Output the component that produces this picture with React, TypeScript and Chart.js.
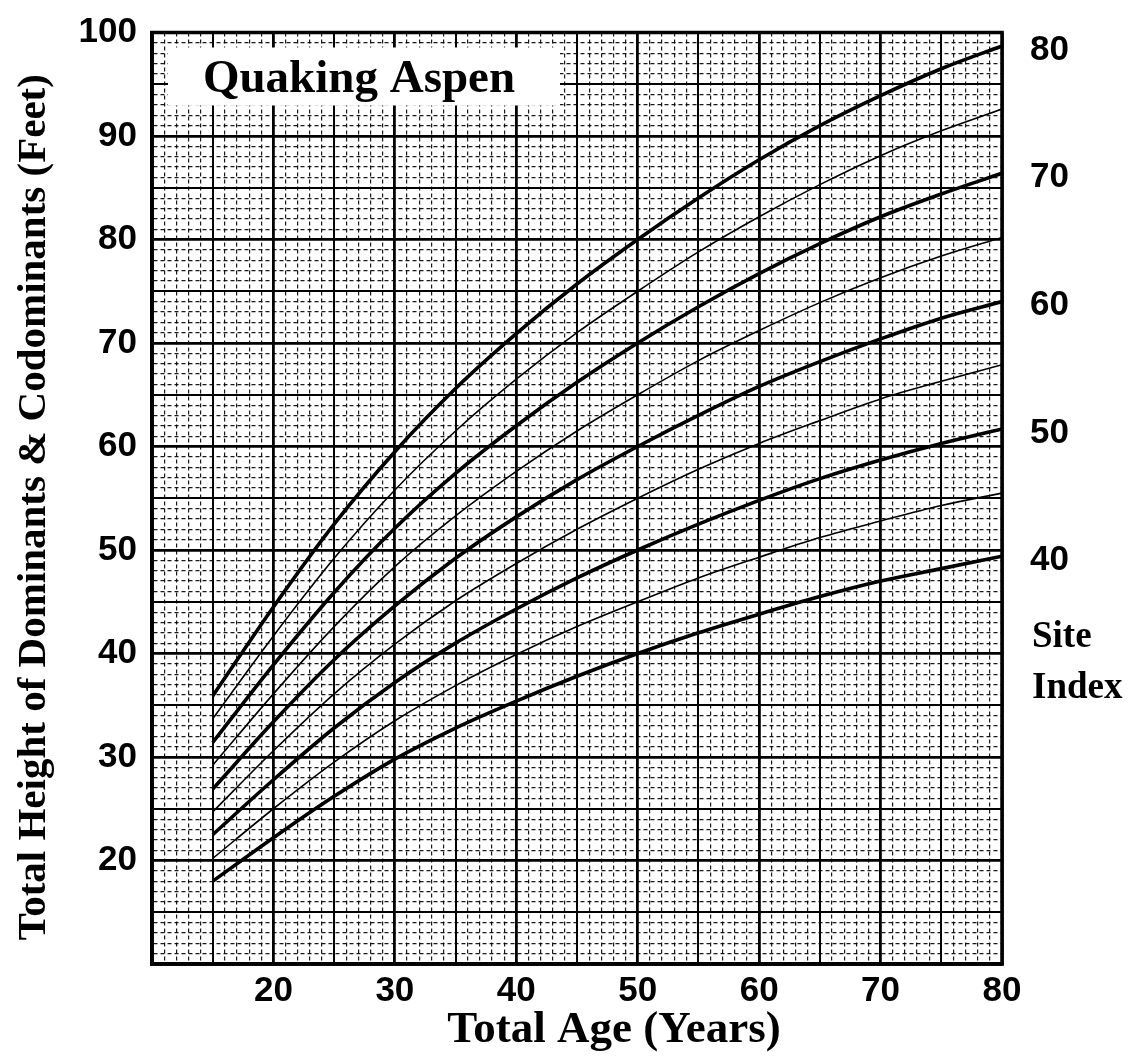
import React, { useEffect, useRef } from "react";
import { Chart, registerables } from "chart.js";

Chart.register(...registerables);

// Total age (years) at which the curve heights are tabulated
const ages = [15, 20, 25, 30, 35, 40, 45, 50, 55, 60, 65, 70, 75, 80];

// Height of dominants & codominants (ft) for each site index (base age 50)
const si80 = [35.9, 44.5, 52.5, 59.5, 65.6, 70.9, 75.7, 80.0, 84.0, 87.7, 91.0, 93.9, 96.5, 98.7];
const si75 = [33.7, 41.7, 49.2, 55.8, 61.5, 66.5, 71.0, 75.0, 78.8, 82.2, 85.3, 88.1, 90.5, 92.6];
const si70 = [31.4, 38.9, 45.9, 52.1, 57.4, 62.0, 66.2, 70.0, 73.5, 76.7, 79.6, 82.2, 84.4, 86.4];
const si65 = [29.2, 36.1, 42.6, 48.4, 53.3, 57.6, 61.5, 65.0, 68.3, 71.2, 73.9, 76.3, 78.4, 80.2];
const si60 = [26.9, 33.4, 39.4, 44.6, 49.2, 53.2, 56.8, 60.0, 63.0, 65.8, 68.2, 70.4, 72.4, 74.0];
const si55 = [24.7, 30.6, 36.1, 40.9, 45.1, 48.7, 52.0, 55.0, 57.8, 60.3, 62.5, 64.6, 66.3, 67.9];
const si50 = [22.5, 27.8, 32.8, 37.2, 41.0, 44.3, 47.3, 50.0, 52.5, 54.8, 56.9, 58.7, 60.3, 61.7];
const si45 = [20.2, 25.0, 29.5, 33.5, 36.9, 39.9, 42.6, 45.0, 47.3, 49.3, 51.2, 52.8, 54.3, 55.5];
const si40 = [18.0, 22.2, 26.2, 29.8, 32.8, 35.4, 37.8, 40.0, 42.0, 43.8, 45.5, 47.0, 48.2, 49.4];

// Labelled (heavy) curves and the unlabelled intermediate curves
const labelledCurves = [si80, si70, si60, si50, si40];
const labelledNames = ["80", "70", "60", "50", "40"];
const intermediateCurves = [si75, si65, si55, si45];
const intermediateNames = ["75", "65", "55", "45"];

const xTickLabels = [20, 30, 40, 50, 60, 70, 80];
const yTickLabels = [20, 30, 40, 50, 60, 70, 80, 90, 100];

const chartTitle = "Quaking Aspen";
const xTitle = "Total Age (Years)";
const yTitle = "Total Height of Dominants & Codominants (Feet)";
const sideTitle = ["Site", "Index"];

const SERIF = '"Liberation Serif", "Times New Roman", serif';
const SANS = '"Liberation Sans", Arial, sans-serif';

const toPoints = (vals: number[]) => ages.map((a, i) => ({ x: a, y: vals[i] }));

const gridLineWidth = (ctx: any) => {
  const v = ctx.tick ? Math.round(ctx.tick.value) : 0;
  if (v % 10 === 0) return 2.8;
  if (v % 5 === 0) return 2.0;
  return 1.2;
};
const gridLineColor = (ctx: any) => {
  const v = ctx.tick ? Math.round(ctx.tick.value) : 0;
  return v % 5 === 0 ? "#000" : "rgba(0,0,0,0.9)";
};
const gridDash = (ctx: any) => {
  if (!ctx.tick) return [];
  const v = Math.round(ctx.tick.value);
  return v % 5 === 0 ? [] : [4, 3];
};

const decorations = {
  id: "decorations",
  beforeDatasetsDraw(chart: any) {
    const { ctx, chartArea } = chart;
    // title box
    ctx.save();
    ctx.fillStyle = "#fff";
    ctx.fillRect(chartArea.left + 16, chartArea.top + 15, 392, 58);
    ctx.fillStyle = "#000";
    ctx.font = `bold 47px ${SERIF}`;
    ctx.textAlign = "center";
    ctx.textBaseline = "alphabetic";
    ctx.fillText(chartTitle, chartArea.left + 207, chartArea.top + 59);
    ctx.restore();
  },
  afterDatasetsDraw(chart: any) {
    const { ctx, chartArea } = chart;
    ctx.save();
    // frame
    ctx.strokeStyle = "#000";
    ctx.lineWidth = 3.5;
    ctx.strokeRect(chartArea.left, chartArea.top, chartArea.right - chartArea.left, chartArea.bottom - chartArea.top);

    // site index labels at the end of the heavy curves
    ctx.fillStyle = "#000";
    ctx.font = `bold 35px ${SANS}`;
    ctx.textAlign = "left";
    ctx.textBaseline = "middle";
    chart.data.datasets.forEach((ds: any, i: number) => {
      if (!ds.siteLabel) return;
      const meta = chart.getDatasetMeta(i);
      const last = meta.data[meta.data.length - 1];
      ctx.fillText(ds.siteLabel, chartArea.right + 28, last.y + 4);
    });

    // "Site Index"
    ctx.font = `bold 37px ${SERIF}`;
    ctx.fillText(sideTitle[0], chartArea.right + 30, 637);
    ctx.fillText(sideTitle[1], chartArea.right + 30, 688);

    // axis titles
    ctx.font = `bold 45px ${SERIF}`;
    ctx.textAlign = "center";
    ctx.fillText(xTitle, (chartArea.left + chartArea.right) / 2 + 37, 1030);

    ctx.font = `bold 41px ${SERIF}`;
    ctx.translate(34, (chartArea.top + chartArea.bottom) / 2 + 9);
    ctx.rotate(-Math.PI / 2);
    ctx.fillText(yTitle, 0, 0);
    ctx.restore();
  },
};

export default function App() {
  const canvasRef = useRef<HTMLCanvasElement | null>(null);

  useEffect(() => {
    if (!canvasRef.current) return;
    const datasets: any[] = [];
    labelledCurves.forEach((vals, i) => {
      datasets.push({
        label: `SI ${labelledNames[i]}`,
        siteLabel: labelledNames[i],
        data: toPoints(vals),
        borderColor: "#000",
        borderWidth: 3.6,
        pointRadius: 0,
        cubicInterpolationMode: "monotone",
      });
    });
    intermediateCurves.forEach((vals, i) => {
      datasets.push({
        label: `SI ${intermediateNames[i]}`,
        data: toPoints(vals),
        borderColor: "#000",
        borderWidth: 1.6,
        pointRadius: 0,
        cubicInterpolationMode: "monotone",
      });
    });

    const chart = new Chart(canvasRef.current, {
      type: "line",
      data: { datasets },
      options: {
        responsive: false,
        animation: false,
        events: [],
        layout: { padding: { left: 0, right: 131, top: 22, bottom: 0 } },
        plugins: { legend: { display: false }, tooltip: { enabled: false } },
        scales: {
          x: {
            type: "linear",
            min: 10,
            max: 80,
            afterFit: (scale: any) => {
              scale.height = 99;
            },
            ticks: {
              stepSize: 1,
              autoSkip: false,
              maxRotation: 0,
              padding: 10,
              color: "#000",
              font: { family: SANS, size: 35, weight: "bold", lineHeight: 1 },
              callback: (v: any) => (xTickLabels.includes(Math.round(Number(v))) ? String(Math.round(Number(v))) : ""),
            },
            grid: { color: gridLineColor, lineWidth: gridLineWidth, drawTicks: false },
            border: { display: true, color: "#000", width: 3.5, dash: gridDash },
          },
          y: {
            type: "linear",
            min: 10,
            max: 100,
            afterFit: (scale: any) => {
              scale.width = 152;
            },
            ticks: {
              stepSize: 1,
              autoSkip: false,
              padding: 15,
              color: "#000",
              font: { family: SANS, size: 35, weight: "bold", lineHeight: 1 },
              callback: (v: any) => (yTickLabels.includes(Math.round(Number(v))) ? String(Math.round(Number(v))) : ""),
            },
            grid: { color: gridLineColor, lineWidth: gridLineWidth, drawTicks: false },
            border: { display: true, color: "#000", width: 3.5, dash: gridDash },
          },
        },
      },
      plugins: [decorations],
    } as any);

    return () => chart.destroy();
  }, []);

  return (
    <div style={{ position: "absolute", left: 0, top: 0, width: 1133, height: 1063, background: "#fff" }}>
      <canvas ref={canvasRef} width={1133} height={1063} style={{ display: "block" }} />
    </div>
  );
}
